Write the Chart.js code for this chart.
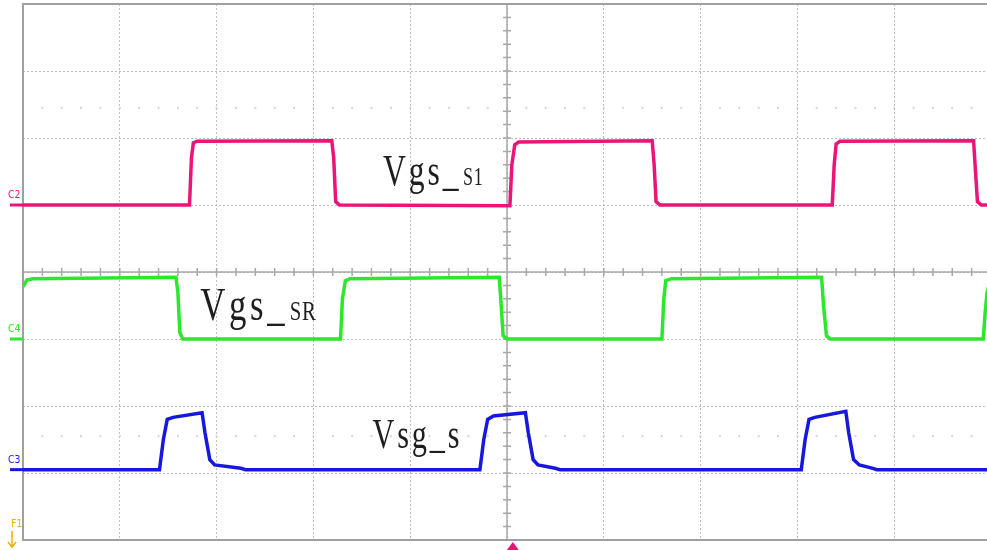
<!DOCTYPE html>
<html>
<head>
<meta charset="utf-8">
<script src="https://cdn.jsdelivr.net/npm/chart.js@4"></script>
<style>
  html, body { margin: 0; padding: 0; background: #fff; overflow: hidden; }
  canvas { display: block; }
</style>
</head>
<body>
<canvas id="scope" width="1000" height="550"></canvas>
<script>
// Oscilloscope traces, in divisions (x: 0..10 time div, y: -4..4 vertical div)
const s1Time  = [0, 1.72, 1.74, 1.76, 1.80, 3.19, 3.21, 3.23, 3.27, 5.03, 5.05, 5.08, 5.12, 6.50, 6.52, 6.54, 6.58, 8.36, 8.38, 8.40, 8.44, 9.82, 9.84, 9.86, 9.90, 10];
const s1Volts = [1.0, 1.0, 1.7, 1.93, 1.95, 1.96, 1.7, 1.05, 1.0, 0.99, 1.6, 1.9, 1.94, 1.96, 1.6, 1.05, 1.0, 1.0, 1.6, 1.91, 1.95, 1.96, 1.5, 1.05, 1.0, 1.0];

const srTime  = [0, 0.04, 0.10, 1.58, 1.60, 1.62, 1.65, 3.28, 3.30, 3.33, 3.38, 4.92, 4.94, 4.96, 5.00, 6.60, 6.62, 6.64, 6.70, 8.25, 8.27, 8.30, 8.34, 9.92, 9.94, 9.96, 10];
const srVolts = [-0.22, -0.12, -0.1, -0.08, -0.3, -0.9, -1.0, -1.0, -0.4, -0.13, -0.1, -0.08, -0.5, -0.95, -1.0, -1.0, -0.4, -0.13, -0.1, -0.08, -0.5, -0.95, -1.0, -1.0, -0.6, -0.3, -0.1];

const sTime  = [0, 1.41, 1.45, 1.49, 1.55, 1.85, 1.88, 1.93, 1.98, 2.25, 2.30, 4.72, 4.76, 4.80, 4.86, 5.19, 5.22, 5.27, 5.32, 5.50, 5.55, 8.04, 8.08, 8.12, 8.18, 8.50, 8.53, 8.58, 8.64, 8.78, 8.82, 10];
const sVolts = [-2.95, -2.95, -2.5, -2.2, -2.17, -2.1, -2.4, -2.8, -2.88, -2.93, -2.95, -2.95, -2.5, -2.2, -2.15, -2.1, -2.4, -2.8, -2.88, -2.93, -2.95, -2.95, -2.5, -2.2, -2.17, -2.08, -2.4, -2.8, -2.88, -2.93, -2.95, -2.95];

// channel names and ground offsets (div)
const channels = ['C2', 'C4', 'C3'];
const channelOffsets = [1.0, -1.0, -2.95];
const channelColors = ['#ec1478', '#2be82b', '#1818dc'];
const traceLabels = ['Vgs_', 'Vgs_', 'Vsg_s'];
const traceSubs = ['S1', 'SR', ''];
const triggerTime = 5.06;

const toPoints = (xs, ys) => xs.map((x, i) => ({x: x, y: ys[i]}));

// extra drawing: frame, center axes with minor ticks, markers, labels
const scopeDecor = {
    id: 'scopeDecor',
    beforeDatasetsDraw(chart) {
        const {ctx, chartArea: a, scales: {x, y}} = chart;
        ctx.save();
        // faint dot rows
        ctx.fillStyle = '#d4d4d4';
        [2.45, -2.45].forEach(v => {
            const py = y.getPixelForValue(v);
            for (let t = 0.2; t < 10; t += 0.2) {
                ctx.fillRect(x.getPixelForValue(t) - 1, py - 1, 2, 2);
            }
        });
        // center axes
        ctx.strokeStyle = '#a8a8a8';
        ctx.lineWidth = 1.5;
        const cx = x.getPixelForValue(5), cy = y.getPixelForValue(0);
        ctx.beginPath();
        ctx.moveTo(cx, a.top); ctx.lineTo(cx, a.bottom);
        ctx.moveTo(a.left, cy); ctx.lineTo(a.right, cy);
        for (let v = -4; v <= 4.001; v += 0.2) {
            const py = y.getPixelForValue(v);
            ctx.moveTo(cx - 4, py); ctx.lineTo(cx + 4, py);
        }
        for (let t = 0; t <= 10.001; t += 0.2) {
            const px = x.getPixelForValue(t);
            ctx.moveTo(px, cy - 4); ctx.lineTo(px, cy + 4);
        }
        ctx.stroke();
        // frame
        ctx.strokeStyle = '#a0a0a0';
        ctx.lineWidth = 2;
        ctx.strokeRect(a.left, a.top, a.right - a.left, a.bottom - a.top);
        ctx.restore();
    },
    afterDraw(chart) {
        const {ctx, chartArea: a, scales: {x, y}} = chart;
        ctx.save();
        // channel ground markers
        channels.forEach((name, i) => {
            const py = y.getPixelForValue(channelOffsets[i]);
            ctx.fillStyle = channelColors[i];
            ctx.fillRect(10, py - 1.5, a.left - 10, 3);
            ctx.save();
            ctx.translate(8, py - 4);
            ctx.scale(0.85, 1);
            ctx.font = '11px "DejaVu Sans"';
            ctx.textBaseline = 'bottom';
            ctx.fillText(name, 0, 0);
            ctx.restore();
        });
        // F1 marker
        ctx.fillStyle = '#f0b000';
        ctx.strokeStyle = '#f0b000';
        ctx.save();
        ctx.translate(11, 530);
        ctx.scale(0.85, 1);
        ctx.font = '11px "DejaVu Sans"';
        ctx.textBaseline = 'bottom';
        ctx.fillText('F1', 0, 0);
        ctx.restore();
        ctx.lineWidth = 1.5;
        ctx.beginPath();
        ctx.moveTo(12, 531); ctx.lineTo(12, 546);
        ctx.moveTo(8, 542); ctx.lineTo(12, 547); ctx.lineTo(16, 542);
        ctx.stroke();
        // trigger position
        const tx = x.getPixelForValue(triggerTime);
        ctx.fillStyle = '#ec1478';
        ctx.beginPath();
        ctx.moveTo(tx, a.bottom + 2);
        ctx.lineTo(tx + 6, 550);
        ctx.lineTo(tx - 6, 550);
        ctx.closePath();
        ctx.fill();
        // trace labels
        const spots = [
            {x: 3.72, y: 1.30, big: 44, small: 25, sx: 0.72, sp: 4},
            {x: 1.83, y: -0.72, big: 47, small: 28, sx: 0.74, sp: 5},
            {x: 3.61, y: -2.63, big: 42, small: 25, sx: 0.72, sp: 4}
        ];
        ctx.fillStyle = '#1e1e1e';
        ctx.textBaseline = 'alphabetic';
        spots.forEach((s, i) => {
            ctx.save();
            ctx.translate(x.getPixelForValue(s.x), y.getPixelForValue(s.y));
            ctx.scale(s.sx, 1);
            ctx.letterSpacing = s.sp + 'px';
            ctx.font = s.big + 'px "Liberation Serif"';
            ctx.fillText(traceLabels[i], 0, 0);
            const w = ctx.measureText(traceLabels[i]).width;
            if (traceSubs[i]) {
                ctx.letterSpacing = '1px';
                ctx.font = s.small + 'px "Liberation Serif"';
                ctx.fillText(traceSubs[i], w + 2, 0);
            }
            ctx.restore();
        });
        ctx.restore();
    }
};

const ctx = document.getElementById('scope').getContext('2d');
const scopeChart = new Chart(ctx, {
    type: 'line',
    data: {
        datasets: [
            { label: 'Vgs_S1', data: toPoints(s1Time, s1Volts), borderColor: channelColors[0] },
            { label: 'Vgs_SR', data: toPoints(srTime, srVolts), borderColor: channelColors[1] },
            { label: 'Vsg_s', data: toPoints(sTime, sVolts), borderColor: channelColors[2] }
        ]
    },
    options: {
        responsive: false,
        animation: false,
        devicePixelRatio: 1,
        layout: { padding: { left: 23, top: 4, right: 9, bottom: 10 } },
        elements: {
            point: { radius: 0 },
            line: { borderWidth: 3.5, tension: 0 }
        },
        scales: {
            x: {
                type: 'linear',
                min: 0, max: 10,
                ticks: { display: false, stepSize: 1 },
                grid: { color: '#bcbcbc', lineWidth: 1, drawTicks: false },
                border: { display: false, dash: [2, 2] }
            },
            y: {
                type: 'linear',
                min: -4, max: 4,
                ticks: { display: false, stepSize: 1 },
                grid: { color: '#bcbcbc', lineWidth: 1, drawTicks: false },
                border: { display: false, dash: [2, 2] }
            }
        },
        plugins: {
            legend: { display: false },
            tooltip: { enabled: false }
        }
    },
    plugins: [scopeDecor]
});
</script>
</body>
</html>
